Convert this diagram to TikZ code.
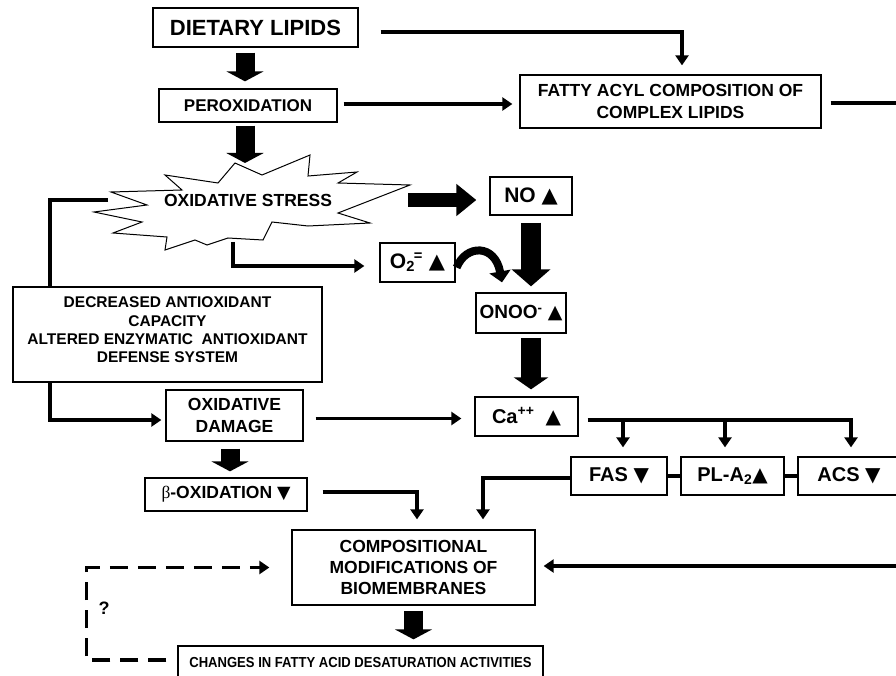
\documentclass[tikz,border=0pt]{standalone}
\usepackage{fontspec}
\setmainfont{Liberation Sans}
\newfontfamily\djv{DejaVu Sans}
\newfontfamily\tms{Liberation Serif}
\newfontfamily\nsans{Liberation Sans}[FakeStretch=0.9]
\usetikzlibrary{arrows.meta,calc}
\newcommand\fsz[2]{\fontsize{#1}{#2}\selectfont}
\newcommand\upT{{\djv ▲}}
\newcommand\dnT{{\djv ▼}}
\begin{document}
\begin{tikzpicture}[x=1pt,y=-1pt,
  box/.style={draw, line width=1.3pt, fill=white, inner sep=0pt, align=center},
  conn/.style={line width=3.5pt, -{Triangle[length=10pt,width=13pt]}},
  plain/.style={line width=3.5pt},
  dconn/.style={line width=3.5pt, dash pattern=on 18pt off 10pt, -{Triangle[length=10pt,width=13pt]}},
  bigv/.style={line width=19pt, -{Triangle[length=10pt,width=37pt]}},
  bigh/.style={line width=14pt, -{Triangle[length=20pt,width=31pt]}},
  bign/.style={line width=20pt, -{Triangle[length=17pt,width=38pt]}},
  starline/.style={line width=1pt, fill=white, line join=miter}
]
\useasboundingbox (0,0) rectangle (896,676);

% nodes
\node[box, minimum width=205pt, minimum height=39pt, font=\bfseries\fsz{22}{26}] (diet) at (255.5,27.5) {DIETARY LIPIDS};
\node[box, minimum width=178pt, minimum height=33pt, font=\bfseries\fsz{17}{21}] (perox) at (248,105.5) {PEROXIDATION};
\node[box, minimum width=301pt, minimum height=53pt, font=\bfseries\fsz{17.5}{22}] (fatty) at (670.5,101.5) {FATTY ACYL COMPOSITION OF\\COMPLEX LIPIDS};
\node[box, minimum width=82pt, minimum height=38pt, font=\bfseries\fsz{21}{25}] (no) at (531,196) {NO \upT};
\node[box, minimum width=75pt, minimum height=39pt, font=\bfseries\fsz{21}{25}] (o2) at (417.5,262.5) {O\textsubscript{2}\kern-1pt\textsuperscript{=} \upT};
\node[box, minimum width=90pt, minimum height=40pt, font=\bfseries\fsz{19}{23}] (onoo) at (521,313) {ONOO\textsuperscript{-} \upT};
\node[box, minimum width=309pt, minimum height=95pt, font=\bfseries\fsz{15.5}{18.3}] (decr) at (167.5,334.5) {DECREASED ANTIOXIDANT\\CAPACITY\\ALTERED ENZYMATIC\ \ ANTIOXIDANT\\DEFENSE SYSTEM\\[-9pt]};
\node[box, minimum width=137pt, minimum height=51pt, font=\bfseries\fsz{17.5}{22}] (oxdam) at (234.5,415.5) {OXIDATIVE\\DAMAGE};
\node[box, minimum width=103pt, minimum height=39pt, font=\bfseries\fsz{20}{24}] (ca) at (526.5,416.5) {Ca\textsuperscript{++}\ \ \upT};
\node[box, minimum width=96pt, minimum height=38pt, font=\bfseries\fsz{20}{24}] (fas) at (619,476) {FAS \dnT};
\node[box, minimum width=103pt, minimum height=38pt, font=\bfseries\fsz{20}{24}] (pla) at (732.5,476) {PL-A\textsubscript{2}\upT};
\node[box, minimum width=102pt, minimum height=38pt, font=\bfseries\fsz{20}{24}] (acs) at (849,476) {ACS \dnT};
\node[box, minimum width=162pt, minimum height=33pt, font=\bfseries\fsz{17.5}{21}] (beta) at (226,494.5) {{\tms\mdseries β}-OXIDATION \dnT};
\node[box, minimum width=243pt, minimum height=75pt, font=\bfseries\fsz{17.5}{21}] (comp) at (413.5,567.5) {COMPOSITIONAL\\MODIFICATIONS OF\\BIOMEMBRANES};
\node[box, minimum width=365pt, minimum height=34pt, font=\nsans\bfseries\fsz{14.5}{17}] (chg) at (360.5,663) {CHANGES IN FATTY ACID DESATURATION ACTIVITIES};

% star
\draw[starline] (111,192) -- (147,205) -- (94,212) -- (142,222) -- (113,233) -- (167,237) -- (165,250) -- (195,240) -- (207,245) -- (228,238) -- (263,240) -- (272,222) -- (308,226) -- (370,223) -- (338,213) -- (410,185) -- (338,183) -- (357,172) -- (308,176) -- (310,155) -- (262,175) -- (235,163) -- (218,183) -- (165,175) -- (182,190) -- cycle;
\node[font=\bfseries\fsz{17.5}{21}] (stress) at (248,200) {OXIDATIVE STRESS};
\coordinate (sTop) at (245,163);
\coordinate (sL) at (108,200);
\coordinate (sB) at (233,242);
\coordinate (sR) at (408,200);

% big arrows
\draw[bigv] ($(diet.south)+(-10.5,5)$) -- ($(perox.north)+(-3,-7)$);
\draw[bigv] ($(perox.south)+(-3,3)$) -- (sTop);
\draw[bigh] (sR) -- ($(no.west)+(-13,4)$);
\draw[bign] ($(no.south)+(0,7)$) -- ($(onoo.north)+(10,-6)$);
\draw[line width=20pt, -{Triangle[length=12pt,width=34pt]}] ($(onoo.south)+(10,4)$) -- ($(ca.north)+(4.5,-7)$);
\draw[bigv] ($(oxdam.south)+(-4.5,7)$) -- ($(beta.north)+(4,-6)$);
\draw[bigv] ($(comp.south)+(0,5)$) -- ($(chg.north)+(53,-6)$);
\draw[line width=8pt, -{Triangle[length=11pt,width=21pt]}] ($(o2.east)+(1,5)$) .. controls (466,244) and (495,244) .. ($(onoo.north)+(-19,-10)$);

% thin connectors
\draw[conn] ($(diet.east)+(22,4.5)$) -| ($(fatty.north)+(11.5,-9)$);
\draw[conn] ($(perox.east)+(6,-1.5)$) -- ($(fatty.west)+(-7,2.5)$);
\draw[conn] ($(fatty.east)+(9,1.5)$) -- ++(100,0) |- ($(comp.east)+(8,-1.5)$);
\draw[conn] (sB) |- ($(o2.west)+(-15,3.5)$);
\draw[plain] (sL) -| ($(decr.north)+(-117.5,0)$);
\draw[conn] ($(decr.south)+(-117.5,0)$) |- ($(oxdam.west)+(-4,4.5)$);
\draw[conn] ($(oxdam.east)+(12,3)$) -- ($(ca.west)+(-13,2)$);
\coordinate (cab) at ($(ca.east)+(9,3.5)$);
\coordinate (fasT) at ($(fas.north)+(4,-9)$);
\coordinate (plaT) at ($(pla.north)+(-7.5,-9)$);
\draw[conn] (cab) -| ($(acs.north)+(2,-9)$);
\draw[conn] (cab -| fasT) -- (fasT);
\draw[conn] (cab -| plaT) -- (plaT);
\draw[plain] (fas.east) -- (pla.west);
\draw[plain] (pla.east) -- (acs.west);
\draw[conn] ($(fas.west)+(0,2)$) -| ($(comp.north)+(69.5,-10)$);
\draw[conn] ($(beta.east)+(15,-2.5)$) -| ($(comp.north)+(3.5,-10)$);
\draw[dconn] ($(chg.west)+(-11,-3)$) -- ++(-80,0) |- ($(comp.west)+(-22,0)$);
\node[font=\bfseries\fsz{18}{22}] (q) at (104,608) {?};
\end{tikzpicture}
\end{document}
